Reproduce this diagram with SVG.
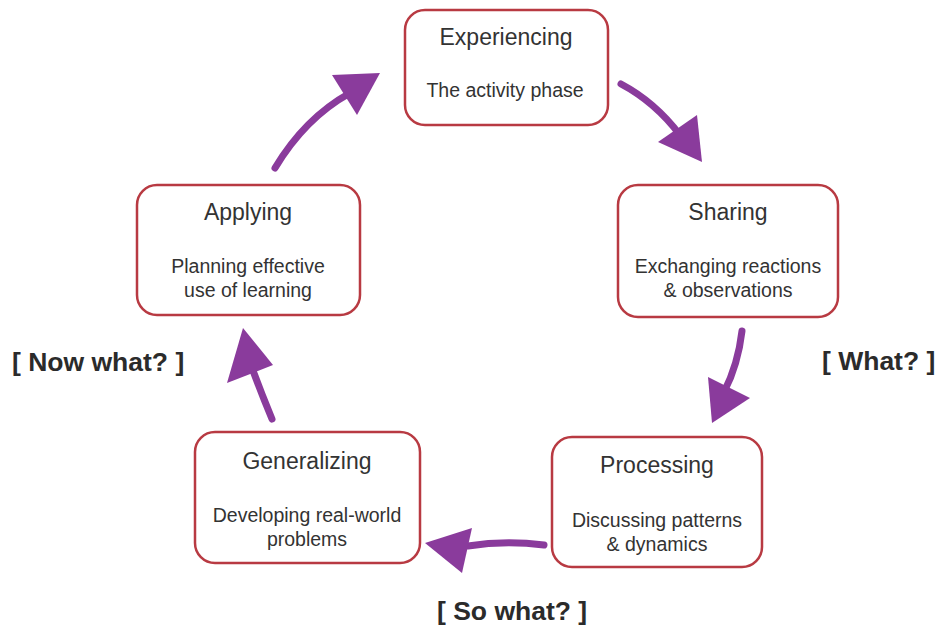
<svg xmlns="http://www.w3.org/2000/svg" width="939" height="632" viewBox="0 0 939 632">
  <style>
    .box { fill: #ffffff; stroke: #b83a42; stroke-width: 2.5; }
    .title { font-family: "Liberation Sans", Arial, sans-serif; font-size: 23px; fill: #333333; text-anchor: middle; }
    .sub { font-family: "Liberation Sans", Arial, sans-serif; font-size: 19.5px; fill: #333333; text-anchor: middle; }
    .tag { font-family: "Liberation Sans", Arial, sans-serif; font-size: 26.5px; font-weight: bold; fill: #2b2b2b; }
    .shaft { fill: none; stroke: #8a3b9c; stroke-width: 7; stroke-linecap: round; }
    .head { fill: #8a3b9c; }
  </style>
  <rect width="939" height="632" fill="#ffffff"/>

  <g id="experiencing">
    <rect class="box" x="405" y="10" width="203" height="115" rx="20"/>
    <text class="title" x="506" y="45">Experiencing</text>
    <text class="sub" x="505" y="97">The activity phase</text>
  </g>

  <g id="sharing">
    <rect class="box" x="618" y="185" width="220" height="132" rx="20"/>
    <text class="title" x="728" y="220">Sharing</text>
    <text class="sub" x="728" y="273">Exchanging reactions</text>
    <text class="sub" x="728" y="297">&amp; observations</text>
  </g>

  <g id="processing">
    <rect class="box" x="552" y="437" width="210" height="130" rx="20"/>
    <text class="title" x="657" y="473">Processing</text>
    <text class="sub" x="657" y="527">Discussing patterns</text>
    <text class="sub" x="657" y="551">&amp; dynamics</text>
  </g>

  <g id="generalizing">
    <rect class="box" x="195" y="432" width="225" height="131" rx="20"/>
    <text class="title" x="307" y="469">Generalizing</text>
    <text class="sub" x="307" y="522">Developing real-world</text>
    <text class="sub" x="307" y="546">problems</text>
  </g>

  <g id="applying">
    <rect class="box" x="137" y="185" width="223" height="130" rx="20"/>
    <text class="title" x="248" y="220">Applying</text>
    <text class="sub" x="248" y="273">Planning effective</text>
    <text class="sub" x="248" y="297">use of learning</text>
  </g>

  <g id="connectors">
    <path class="shaft" d="M621,84 Q655,102 680,135"/>
    <polygon class="head" points="702,162 658,142 697,115"/>

    <path class="shaft" d="M742,331 Q738,365 724,392"/>
    <polygon class="head" points="712,423 708,377 750,398"/>

    <path class="shaft" d="M544,545 Q505,540 468,546"/>
    <polygon class="head" points="425,543 472,528 462,573"/>

    <path class="shaft" d="M272,419 Q262,395 252,368"/>
    <polygon class="head" points="243,328 227,383 273,365"/>

    <path class="shaft" d="M275,168 Q305,118 350,93"/>
    <polygon class="head" points="380,73 332,75 357,115"/>
  </g>

  <g id="labels">
    <text class="tag" x="12" y="371">[ Now what? ]</text>
    <text class="tag" x="822" y="370">[ What? ]</text>
    <text class="tag" x="437" y="620">[ So what? ]</text>
  </g>
</svg>
